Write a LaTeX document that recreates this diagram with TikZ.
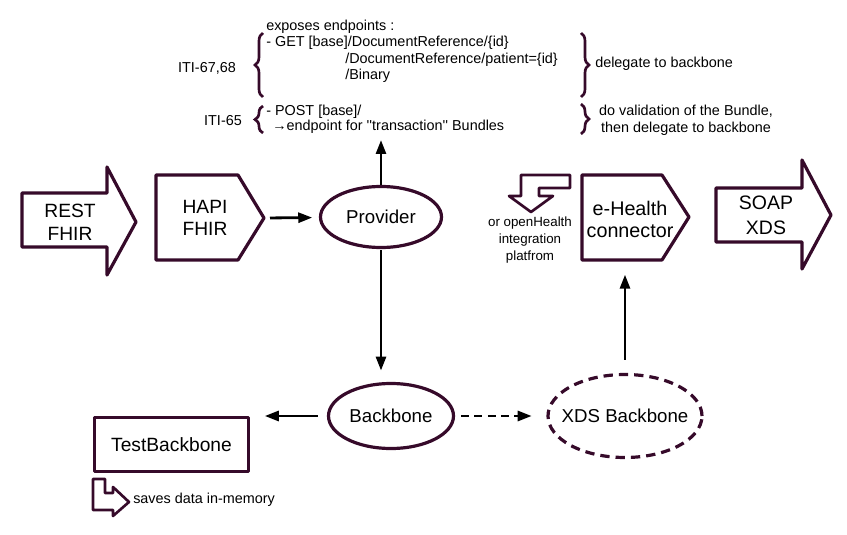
\documentclass[tikz,border=0pt]{standalone}
\usepackage{fontspec}
\setmainfont{Liberation Sans}
\usetikzlibrary{shapes.geometric,arrows.meta,decorations.pathreplacing}
\definecolor{outline}{HTML}{360A2A}
\begin{document}
\begin{tikzpicture}[
    x=0.75pt, y=-0.75pt,
    block/.style={
        draw=outline,
        line width=2.4pt,
        line join=round
    },
    oval/.style={
        ellipse,
        draw=outline,
        line width=2.4pt,
        inner sep=0pt,
        font=\fontsize{14}{16}\selectfont
    },
    bigtext/.style={
        align=center,
        inner sep=0pt,
        font=\fontsize{14.4}{17}\selectfont
    },
    note/.style={
        inner sep=0pt,
        font=\fontsize{10.8}{12.75}\selectfont
    },
    curly/.style={
        draw=outline,
        line width=2pt,
        decorate,
        decoration={brace, amplitude=6pt}
    },
    msg/.style={
        -{Triangle[length=10.5pt, width=7.5pt]},
        line width=2.1pt
    }
]
\useasboundingbox (0,0) rectangle (847,535);

% Incoming and outgoing protocols
\draw[block] (22,193) -- (107,193) -- (107,167) -- (136,222) -- (107,275) -- (107,247) -- (22,247) -- cycle;
\node[bigtext] (rest) at (70,222) {REST\\FHIR};
\draw[block] (716,188) -- (802,188) -- (802,160) -- (831,215) -- (802,269) -- (802,242) -- (716,242) -- cycle;
\node[bigtext, font=\fontsize{14.6}{18.5}\selectfont] (soap) at (766,215) {SOAP\\XDS};

% Pentagons
\draw[block] (156,175) -- (238,175) -- (264,218) -- (238,260) -- (156,260) -- cycle;
\coordinate (hapitip) at (264,218);
\node[bigtext] (hapi) at (205,218) {HAPI\\FHIR};
\draw[block] (582,175) -- (662,175) -- (689,217) -- (662,260) -- (582,260) -- cycle;
\coordinate (ehealthbase) at (625,260);
\node[bigtext, font=\fontsize{14.8}{16.5}\selectfont] (ehealth) at (630,219) {e-Health\\connector};

% Components
\node[oval, minimum width=90.75pt, minimum height=45.75pt] (provider) at (381,217) {\makebox[0pt]{Provider}};
\node[oval, minimum width=93.75pt, minimum height=48.75pt] (backbone) at (391,416) {\makebox[0pt]{Backbone}};
\node[oval, dashed, dash pattern=on 7pt off 4.5pt, minimum width=115.5pt, minimum height=62.25pt] (xds) at (625,416) {\makebox[0pt]{XDS Backbone}};
\node[block, font=\fontsize{14.4}{16}\selectfont, minimum width=115.5pt, minimum height=40.5pt] (test) at (171.5,444.5) {TestBackbone};

% Small bent arrows
\draw[block, line width=2pt] (521,175) -- (570,175) -- (570,188) -- (539,188) -- (539,196) -- (553,196) -- (531,212) -- (509,196) -- (521,196) -- cycle;
\node[note, align=center, font=\fontsize{10}{12.75}\selectfont] (openhealth) at (530,240) {or openHealth\\integration\\platfrom};
\draw[block, line width=2pt] (93,479) -- (105,479) -- (105,493) -- (113,493) -- (113,487) -- (129,502) -- (113,516) -- (113,510) -- (93,510) -- cycle;
\node[note, anchor=west] (inmemory) at (133,500) {saves data in-memory};

% Exposed endpoints
\node[note, anchor=west] (exposes) at (266,27) {exposes endpoints :};
\node[note, anchor=west] (get) at (266,43) {- GET [base]/DocumentReference/\{id\}};
\node[note, anchor=west] (patient) at (345,60) {/DocumentReference/patient=\{id\}};
\node[note, anchor=west] (binary) at (345,76) {/Binary};
\node[note, anchor=west] (post) at (266,112) {- POST [base]/};
\node[note, anchor=west] (transaction) at (272,127) {→endpoint for \textquotesingle\textquotesingle transaction\textquotesingle\textquotesingle{} Bundles};
\node[note] (iti6768) at (207,68) {ITI-67,68};
\node[note] (iti65) at (223,121) {ITI-65};
\node[note, anchor=west] (delegate) at (595,64) {delegate to backbone};
\node[note, align=center] (validation) at (686,120) {do validation of the Bundle,\\then delegate to backbone};

% Braces
\draw[curly] (263,97) -- (263,33);
\draw[curly] (263,133) -- (263,106);
\draw[curly] (581,33) -- (581,97);
\draw[curly] (581,104) -- (581,134);

% Connectors
\coordinate (endpoints) at (381,140);
\draw[msg, shorten <=4.5pt, shorten >=5pt] (hapitip) -- (provider);
\draw[msg] (provider) -- (endpoints);
\draw[msg, shorten <=1pt, shorten >=8.5pt] (provider.south) -- (provider.south |- backbone.north);
\draw[msg, shorten <=6.75pt, shorten >=11pt] (backbone.west) -- (backbone.west -| test.east);
\draw[msg, dashed, dash pattern=on 6pt off 4pt, shorten <=4.5pt, shorten >=11pt] (backbone.east) -- (xds.west);
\draw[msg, shorten <=10pt, shorten >=11pt] (xds.north) -- (ehealthbase);

\end{tikzpicture}
\end{document}
